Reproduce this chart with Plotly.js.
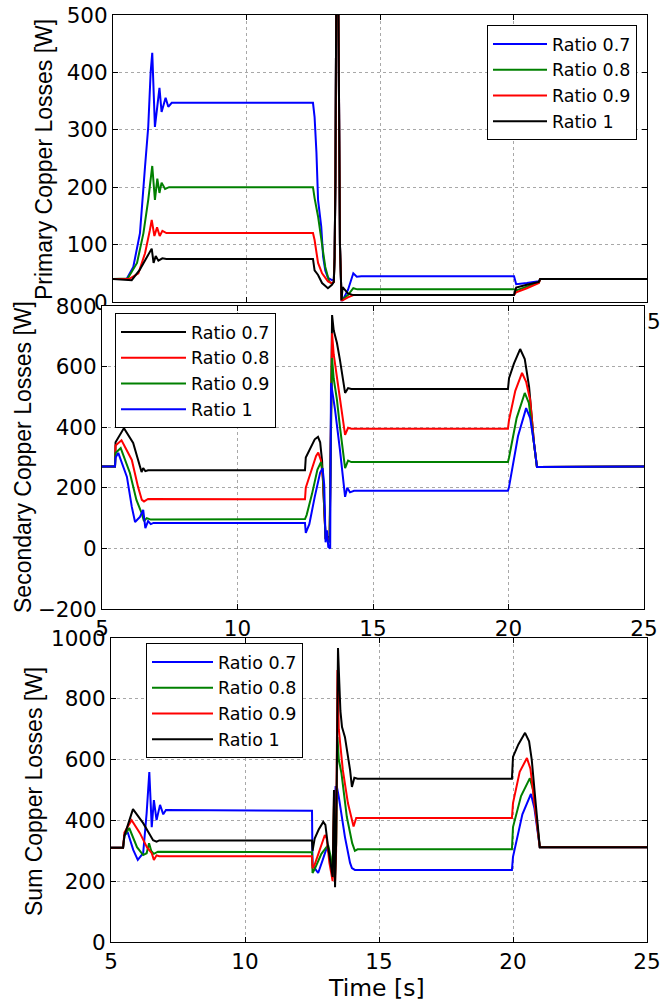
<!DOCTYPE html>
<html>
<head>
<meta charset="utf-8">
<script src="https://cdn.plot.ly/plotly-3.0.1.min.js"></script>
<style>html,body{margin:0;padding:0;background:#fff;}#chart{width:664px;height:1001px;}</style>
</head>
<body>
<div id="chart"></div>
<script>
// ---------- Data ----------
const seriesNames = ['Ratio 0.7', 'Ratio 0.8', 'Ratio 0.9', 'Ratio 1'];
const xTicks = [5, 10, 15, 20, 25];
const xTickText = ['5', '10', '15', '20', '25'];
// top plot: its tick labels are hidden behind the middle plot, only the tail of "25" shows
const xTickTextTop = ['', '', '', '', '25'];

// Plot 1: Primary copper losses [W]
const t1_07 = [5, 5.51, 5.76, 6.01, 6.2, 6.32, 6.41, 6.47, 6.57, 6.74, 6.82, 6.97, 7.07, 7.2, 12.49, 12.55, 12.62, 12.68, 12.8, 12.87, 12.95, 13.05, 13.2, 13.27, 13.3, 13.33, 13.36, 13.44, 13.47, 13.5, 13.56, 13.6, 13.8, 14.0, 14.13, 14.3, 20.02, 20.1, 20.5, 20.95, 21.0, 25];
const w1_07 = [40, 40, 61, 120, 236, 305, 400, 434, 305, 373, 331, 356, 340, 347, 347, 322, 260, 178, 131, 79, 55, 42, 38, 40, 78, 210, 520, 520, 320, 100, 3, 3, 21, 50, 44, 45, 45, 31, 33, 36, 40, 40];
const t1_08 = [5, 5.55, 5.9, 6.14, 6.32, 6.47, 6.57, 6.66, 6.74, 6.82, 6.95, 7.1, 12.49, 12.55, 12.68, 12.83, 12.95, 13.1, 13.2, 13.27, 13.3, 13.33, 13.36, 13.44, 13.47, 13.5, 13.56, 13.6, 13.8, 14.0, 14.15, 20.02, 20.1, 20.5, 20.95, 21.0, 25];
const w1_08 = [40, 41, 68, 120, 178, 237, 178, 215, 190, 208, 197, 200, 200, 181, 149, 96, 61, 35, 32, 35, 78, 210, 520, 520, 320, 100, 3, 5, 12, 24, 22, 22, 20, 27, 34, 40, 40];
const t1_09 = [5, 5.6, 5.95, 6.2, 6.38, 6.45, 6.55, 6.65, 6.75, 6.85, 7.0, 12.49, 12.55, 12.68, 12.83, 13.05, 13.2, 13.27, 13.3, 13.33, 13.36, 13.44, 13.47, 13.5, 13.56, 13.6, 13.8, 14.0, 20.02, 20.1, 20.5, 20.95, 21.0, 25];
const w1_09 = [40, 40, 50, 85, 125, 143, 115, 130, 115, 124, 120, 120, 108, 68, 50, 36, 33, 35, 78, 210, 520, 520, 320, 100, 3, 3, 8, 12, 12, 17, 24, 33, 40, 40];
const t1_10 = [5, 5.7, 6.0, 6.3, 6.45, 6.52, 6.6, 6.7, 6.85, 7.0, 12.49, 12.55, 12.68, 12.83, 13.05, 13.2, 13.27, 13.3, 13.33, 13.36, 13.44, 13.47, 13.5, 13.56, 13.6, 13.8, 14.0, 20.02, 20.1, 20.5, 20.95, 21.0, 25];
const w1_10 = [40, 38, 56, 79, 93, 68, 80, 72, 76, 75, 75, 55, 47, 33, 24, 30, 35, 78, 210, 520, 520, 320, 100, 3, 26, 15, 12, 12, 25, 30, 35, 40, 40];

// Plot 2: Secondary copper losses [W]
const t2_07 = [5, 5.48, 5.5, 5.81, 6.15, 6.33, 6.46, 6.52, 6.6, 6.7, 12.49, 12.52, 12.7, 12.85, 12.97, 13.05, 13.12, 13.18, 13.25, 13.4, 13.45, 13.49, 13.55, 13.67, 13.78, 13.88, 13.97, 14.08, 14.2, 19.98, 20.02, 20.2, 20.43, 20.6, 20.76, 20.94, 21.05, 25];
const w2_07 = [270, 270, 350, 397, 348, 292, 252, 265, 255, 258, 258, 300, 330, 360, 368, 350, 290, 150, 34, 40, 600, 770, 720, 678, 622, 560, 513, 529, 526, 526, 562, 610, 658, 625, 533, 348, 269, 270];
const t2_08 = [5, 5.48, 5.5, 5.72, 6.1, 6.33, 6.47, 6.55, 6.7, 12.49, 12.52, 12.7, 12.9, 12.98, 13.08, 13.15, 13.25, 13.4, 13.46, 13.49, 13.55, 13.67, 13.86, 13.97, 14.08, 14.2, 19.98, 20.02, 20.25, 20.5, 20.65, 20.8, 20.94, 21.05, 25];
const w2_08 = [270, 270, 340, 357, 292, 203, 160, 155, 163, 162, 200, 250, 305, 316, 290, 230, 34, 30, 500, 710, 640, 566, 447, 375, 398, 395, 395, 424, 520, 579, 550, 490, 348, 269, 270];
const t2_09 = [5, 5.48, 5.5, 5.69, 6.03, 6.27, 6.46, 6.55, 6.65, 6.8, 12.49, 12.55, 12.75, 12.95, 13.08, 13.15, 13.25, 13.4, 13.46, 13.49, 13.55, 13.67, 13.78, 13.97, 14.08, 14.2, 19.98, 20.02, 20.3, 20.6, 20.75, 20.87, 20.97, 21.05, 25];
const w2_09 = [270, 270, 315, 331, 249, 160, 117, 90, 100, 95, 97, 110, 180, 260, 285, 250, 34, 20, 450, 628, 560, 490, 401, 265, 290, 285, 285, 300, 430, 513, 480, 400, 320, 269, 270];
const t2_10 = [5, 5.48, 5.5, 5.6, 5.92, 6.1, 6.22, 6.4, 6.52, 6.6, 6.7, 6.8, 6.9, 12.49, 12.52, 12.65, 12.85, 13.05, 13.14, 13.2, 13.25, 13.3, 13.35, 13.42, 13.45, 13.6, 13.78, 13.97, 14.05, 14.15, 14.3, 19.98, 20.02, 20.35, 20.65, 20.8, 20.94, 21.05, 25];
const w2_10 = [270, 270, 300, 315, 236, 137, 87, 104, 127, 67, 90, 80, 84, 84, 51, 80, 170, 250, 265, 210, 20, 60, 5, 0, 546, 457, 325, 170, 200, 185, 190, 190, 203, 370, 463, 430, 348, 269, 270];

// Plot 3: Sum copper losses [W]
const t3_07 = [5, 5.45, 5.5, 5.62, 5.83, 6.0, 6.2, 6.33, 6.43, 6.52, 6.6, 6.7, 6.83, 6.95, 7.05, 12.5, 12.52, 12.73, 12.9, 13.05, 13.15, 13.27, 13.32, 13.38, 13.43, 13.5, 13.73, 13.92, 13.99, 14.1, 19.96, 20.0, 20.35, 20.67, 20.8, 20.9, 21.0, 25];
const w3_07 = [310, 310, 350, 362, 303, 270, 292, 424, 559, 378, 467, 401, 451, 420, 434, 432, 253, 227, 270, 310, 290, 220, 400, 510, 510, 477, 345, 260, 243, 237, 237, 280, 420, 487, 440, 380, 312, 312];
const t3_08 = [5, 5.45, 5.5, 5.68, 5.97, 6.2, 6.33, 6.42, 6.5, 6.6, 6.75, 12.5, 12.52, 12.6, 12.85, 13.1, 13.2, 13.27, 13.32, 13.36, 13.4, 13.45, 13.5, 13.6, 13.8, 14.0, 14.1, 14.2, 19.96, 20.0, 20.3, 20.63, 20.75, 20.85, 21.0, 25];
const w3_08 = [310, 310, 350, 375, 312, 286, 292, 325, 300, 290, 297, 295, 227, 240, 290, 319, 280, 210, 450, 220, 320, 674, 600, 555, 411, 325, 300, 305, 305, 378, 480, 539, 500, 420, 312, 312];
const t3_09 = [5, 5.45, 5.5, 5.77, 6.08, 6.34, 6.52, 6.6, 6.7, 6.8, 12.5, 12.52, 12.6, 12.8, 12.98, 13.05, 13.15, 13.27, 13.32, 13.36, 13.4, 13.45, 13.5, 13.55, 13.65, 13.84, 13.99, 14.05, 14.15, 19.96, 20.0, 20.25, 20.52, 20.65, 20.82, 21.0, 25];
const w3_09 = [310, 310, 360, 401, 358, 312, 292, 270, 285, 282, 282, 243, 255, 310, 352, 340, 260, 200, 480, 200, 300, 895, 700, 654, 566, 457, 395, 380, 408, 408, 457, 560, 605, 570, 444, 312, 312];
const t3_10 = [5, 5.45, 5.5, 5.82, 6.2, 6.46, 6.57, 6.7, 6.8, 12.5, 12.52, 12.6, 12.75, 12.92, 13.0, 13.1, 13.2, 13.27, 13.32, 13.36, 13.4, 13.47, 13.52, 13.56, 13.62, 13.73, 13.92, 13.99, 14.08, 14.2, 19.96, 20.0, 20.2, 20.45, 20.6, 20.7, 20.86, 21.0, 25];
const w3_10 = [310, 310, 350, 437, 391, 352, 335, 330, 334, 334, 300, 340, 370, 395, 385, 313, 250, 214, 500, 180, 330, 967, 850, 760, 707, 674, 566, 510, 540, 537, 537, 609, 650, 688, 660, 599, 444, 312, 312];

// ---------- Styling ----------
const BLUE = '#0000ff', GREEN = '#008000', RED = '#ff0000', BLACK = '#000000';
const W = 664, H = 1001;
const px = v => v / W;
const py = v => 1 - v / H;

function tr(x, y, name, color, xa, ya, leg, grp) {
  return {
    type: 'scatter', mode: 'lines', x: x, y: y, name: name,
    xaxis: xa, yaxis: ya, legend: leg, legendgroup: grp,
    line: {color: color, width: 2}
  };
}

const data = [
  tr(t1_07, w1_07, seriesNames[0], BLUE, 'x', 'y', 'legend', 'a1'),
  tr(t1_08, w1_08, seriesNames[1], GREEN, 'x', 'y', 'legend', 'a2'),
  tr(t1_09, w1_09, seriesNames[2], RED, 'x', 'y', 'legend', 'a3'),
  tr(t1_10, w1_10, seriesNames[3], BLACK, 'x', 'y', 'legend', 'a4'),
  tr(t2_07, w2_07, seriesNames[0], BLACK, 'x2', 'y2', 'legend2', 'b1'),
  tr(t2_08, w2_08, seriesNames[1], RED, 'x2', 'y2', 'legend2', 'b2'),
  tr(t2_09, w2_09, seriesNames[2], GREEN, 'x2', 'y2', 'legend2', 'b3'),
  tr(t2_10, w2_10, seriesNames[3], BLUE, 'x2', 'y2', 'legend2', 'b4'),
  tr(t3_07, w3_07, seriesNames[0], BLUE, 'x3', 'y3', 'legend3', 'c1'),
  tr(t3_08, w3_08, seriesNames[1], GREEN, 'x3', 'y3', 'legend3', 'c2'),
  tr(t3_09, w3_09, seriesNames[2], RED, 'x3', 'y3', 'legend3', 'c3'),
  tr(t3_10, w3_10, seriesNames[3], BLACK, 'x3', 'y3', 'legend3', 'c4')
];

const tickFont = {family: 'DejaVu Sans', size: 21.5, color: '#000'};
function axis(extra) {
  return Object.assign({
    ticks: 'inside', ticklen: 5, tickcolor: '#000', tickwidth: 1,
    showline: true, linecolor: '#000', linewidth: 1, mirror: 'ticks',
    showgrid: true, gridcolor: '#a8a8a8', griddash: 'dot', gridwidth: 1,
    zeroline: false, tickfont: tickFont, fixedrange: true
  }, extra);
}

const legFont = {family: 'DejaVu Sans', size: 17.5, color: '#000'};
function leg(x, y, iw, gap) {
  return {x: x, y: y, xanchor: 'left', yanchor: 'top', bgcolor: '#fff',
    bordercolor: '#000', borderwidth: 1, font: legFont, itemwidth: iw,
    tracegroupgap: gap, traceorder: 'normal'};
}

const titleFont = {family: 'Liberation Sans', size: 23, color: '#000'};
const layout = {
  width: W, height: H,
  margin: {l: 0, r: 0, t: 0, b: 0},
  paper_bgcolor: '#fff', plot_bgcolor: '#fff',
  showlegend: true,
  xaxis: axis({domain: [px(113), px(647)], range: [5, 25], tickvals: xTicks, ticktext: xTickTextTop, anchor: 'y'}),
  yaxis: axis({domain: [py(302), py(15)], range: [0, 500], dtick: 100, tick0: 0, anchor: 'x'}),
  xaxis2: axis({domain: [px(102), px(644)], range: [5, 25], tickvals: xTicks, ticktext: xTickText, anchor: 'y2'}),
  yaxis2: axis({domain: [py(609), py(306)], range: [-200, 800], dtick: 200, tick0: 0, anchor: 'x2'}),
  xaxis3: axis({domain: [px(111), px(647)], range: [5, 25], tickvals: xTicks, ticktext: xTickText, anchor: 'y3'}),
  yaxis3: axis({domain: [py(942), py(638)], range: [0, 1000], dtick: 200, tick0: 0, anchor: 'x3'}),
  legend: leg(px(487), py(25), 54, 0),
  legend2: leg(px(115), py(313), 65, 2),
  legend3: leg(px(146), py(643), 61, 2),
  shapes: [
    // white axes background of the middle plot, hiding the top plot's tick labels under it
    {type: 'rect', xref: 'x2', yref: 'y2', x0: 5, x1: 25, y0: -200, y1: 800,
     fillcolor: '#fff', line: {width: 0}, layer: 'below'}
  ],
  annotations: [
    {text: 'Primary Copper Losses [W]', xref: 'paper', yref: 'paper', x: px(44), y: py(160),
     xanchor: 'center', yanchor: 'middle', textangle: -90, showarrow: false, font: titleFont},
    {text: 'Secondary Copper Losses [W]', xref: 'paper', yref: 'paper', x: px(23), y: py(457),
     xanchor: 'center', yanchor: 'middle', textangle: -90, showarrow: false, font: titleFont},
    {text: 'Sum Copper Losses [W]', xref: 'paper', yref: 'paper', x: px(34), y: py(792),
     xanchor: 'center', yanchor: 'middle', textangle: -90, showarrow: false, font: titleFont},
    {text: 'Time [s]', xref: 'paper', yref: 'paper', x: px(376), y: py(988),
     xanchor: 'center', yanchor: 'middle', showarrow: false, borderpad: 0,
     font: {family: 'DejaVu Sans', size: 23.5, color: '#000'}}
  ]
};

Plotly.newPlot('chart', data, layout, {displayModeBar: false, staticPlot: true});
</script>
</body>
</html>
